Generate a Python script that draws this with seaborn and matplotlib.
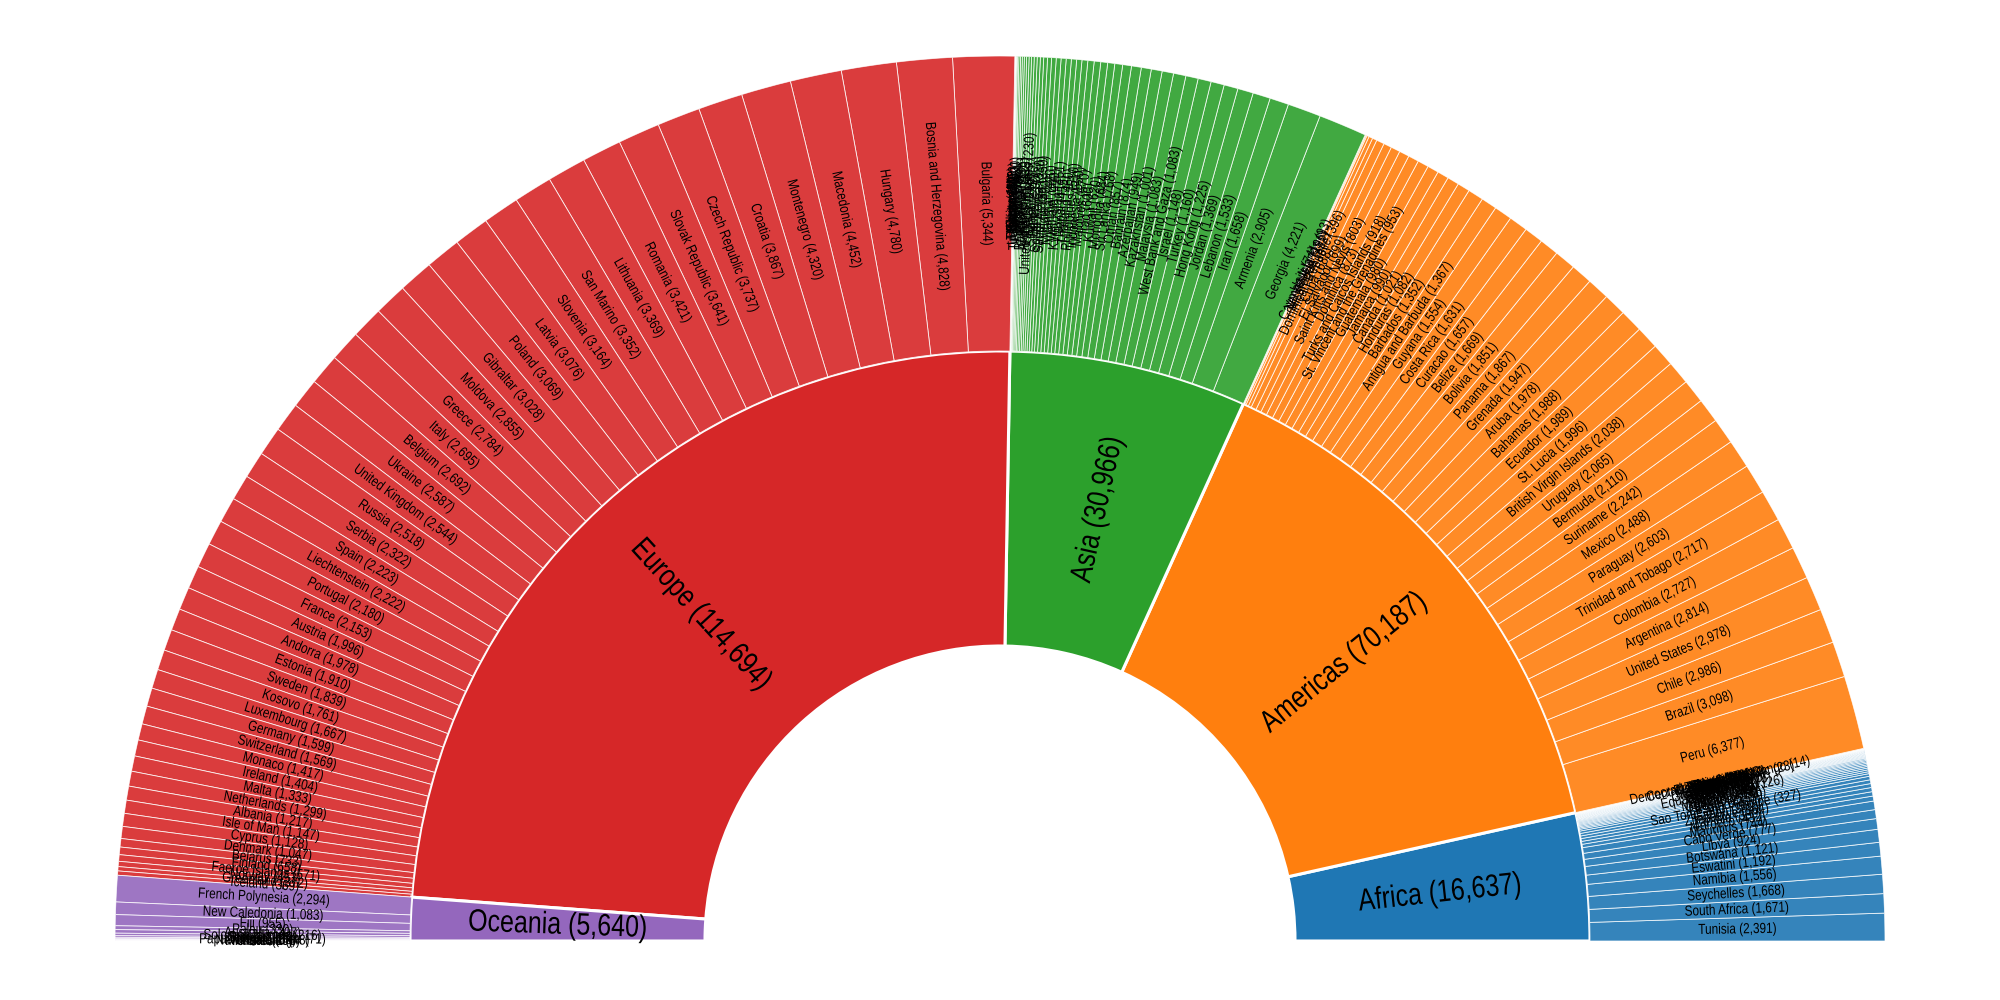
"""
Half sunburst: continent -> country, drawn on a polar axes with the tab10 palette.
Saida: out.png
"""
import numpy as np
import pandas as pd
import matplotlib
matplotlib.use("Agg")
import matplotlib.pyplot as plt
import seaborn as sns
from matplotlib.colors import to_rgba
from matplotlib.patheffects import AbstractPathEffect
from matplotlib.transforms import Affine2D

continents = ["Africa", "Americas", "Asia", "Europe", "Oceania"]
continent_totals = [16637, 70187, 30966, 114694, 5640]

africa_names = ["Tunisia", "South Africa", "Seychelles", "Namibia", "Eswatini", "Botswana", "Libya",
                "Cabo Verde", "Mauritius", "Morocco", "Zambia", "Zimbabwe", "Gabon",
                "Sao Tome and Principe", "Lesotho", "Egypt", "Comoros", "Mauritania", "Djibouti", "Algeria", "Malawi",
                "Gambia", "Equatorial Guinea", "Senegal", "Rwanda", "Kenya", "Uganda", "Guinea-Bissau",
                "Cameroon", "Mozambique", "Ethiopia", "Congo", "Sudan", "Angola", "Ghana", "Liberia",
                "Somalia", "Mali", "Togo", "Cote d'Ivoire", "Central African Republic", "Burkina Faso",
                "Benin", "Nigeria", "Tanzania", "Chad", "Niger", "Democratic Republic of Congo"]
africa_values = [2391, 1671, 1668, 1556, 1192, 1121, 924,
                 777, 744, 432, 380, 364, 342,
                 327, 310, 225, 170, 165, 160, 145, 135,
                 135, 126, 115, 105, 100, 75, 75,
                 70, 70, 65, 60, 60, 55, 45, 45,
                 40, 33, 30, 26, 23, 14,
                 14, 14, 12, 10, 8, 14]

americas_names = ["Peru", "Brazil", "Chile", "United States", "Argentina", "Colombia",
                  "Trinidad and Tobago", "Paraguay", "Mexico", "Suriname", "Bermuda", "Uruguay",
                  "British Virgin Islands", "St. Lucia", "Ecuador", "Bahamas", "Aruba", "Grenada",
                  "Panama", "Bolivia", "Belize", "Curacao", "Costa Rica", "Guyana",
                  "Antigua and Barbuda", "Barbados", "Honduras", "Canada", "Jamaica", "Guatemala",
                  "St. Vincent and the Grenadines", "Turks and Caicos Islands", "Dominica",
                  "Saint Kitts and Nevis", "El Salvador", "Cuba", "Dominican Republic", "Nicaragua",
                  "Venezuela", "Cayman Islands", "Haiti"]
americas_values = [6377, 3098, 2986, 2978, 2814, 2727,
                   2717, 2603, 2488, 2242, 2110, 2065,
                   2038, 1996, 1989, 1988, 1978, 1947,
                   1867, 1851, 1669, 1657, 1631, 1554,
                   1367, 1352, 1082, 1021, 990, 980,
                   953, 918, 873,
                   803, 699, 688, 396, 332,
                   196, 93, 74]

asia_names = ["Georgia", "Armenia", "Iran", "Lebanon", "Jordan", "Hong Kong", "Turkey", "Israel",
              "West Bank and Gaza", "Malaysia", "Kazakhstan", "Azerbaijan", "Bahrain", "Oman",
              "Sri Lanka", "Mongolia", "Kuwait", "Iraq", "Maldives", "Indonesia", "Philippines",
              "Thailand", "Nepal", "Kyrgyzstan", "Vietnam", "Myanmar", "India", "Saudi Arabia",
              "South Korea", "Brunei", "Singapore", "Qatar", "United Arab Emirates", "Afghanistan",
              "Cambodia", "Bangladesh", "Japan", "Syria", "Pakistan", "Timor-Leste", "Yemen",
              "Uzbekistan", "Taiwan", "Laos", "Tajikistan", "Macao", "Bhutan", "China"]
asia_values = [4221, 2905, 1658, 1533, 1369, 1225, 1160, 1148,
               1083, 1083, 1001, 949, 874, 857,
               768, 684, 620, 600, 570, 550, 510,
               460, 455, 451, 440, 420, 400, 350,
               330, 290, 270, 260, 230, 215,
               210, 195, 175, 155, 145, 120, 82,
               50, 40, 25, 13, 10, 4, 3]

europe_names = ["Bulgaria", "Bosnia and Herzegovina", "Hungary", "Macedonia", "Montenegro", "Croatia",
                "Czech Republic", "Slovak Republic", "Romania", "Lithuania", "San Marino", "Slovenia",
                "Latvia", "Poland", "Gibraltar", "Moldova", "Greece", "Italy", "Belgium", "Ukraine",
                "United Kingdom", "Russia", "Serbia", "Spain", "Liechtenstein", "Portugal", "France",
                "Austria", "Andorra", "Estonia", "Sweden", "Kosovo", "Luxembourg", "Germany",
                "Switzerland", "Monaco", "Ireland", "Malta", "Netherlands", "Albania", "Isle of Man",
                "Cyprus", "Denmark", "Belarus", "Finland", "Faeroe Islands", "Norway", "Greenland",
                "Iceland"]
europe_values = [5344, 4828, 4780, 4452, 4320, 3867,
                 3737, 3641, 3421, 3369, 3352, 3164,
                 3076, 3069, 3028, 2855, 2784, 2695, 2692, 2587,
                 2544, 2518, 2322, 2223, 2222, 2180, 2153,
                 1996, 1978, 1910, 1839, 1761, 1667, 1599,
                 1569, 1417, 1404, 1333, 1299, 1217, 1147,
                 1128, 1047, 733, 658, 571, 457, 372,
                 369]

oceania_names = ["French Polynesia", "New Caledonia", "Fiji", "Palau", "Australia", "Solomon Islands",
                 "Samoa", "Tonga", "Papua New Guinea", "Vanuatu", "New Zealand", "Kiribati", "Micronesia"]
oceania_values = [2294, 1083, 955, 330, 307, 216,
                  140, 115, 71, 58, 48, 15, 8]

country_names = [africa_names, americas_names, asia_names, europe_names, oceania_names]
country_values = [africa_values, americas_values, asia_values, europe_values, oceania_values]


class Estica(AbstractPathEffect):
    # o texto do original e mais alto que largo: estica os glifos na vertical
    def __init__(self, k=1.24):
        self.k = k

    def draw_path(self, renderer, gc, tpath, affine, rgbFace=None):
        esticado = Affine2D().translate(0, -36).scale(1, self.k).translate(0, 36)
        renderer.draw_path(gc, tpath, esticado + affine, rgbFace)


sns.set_theme(style="white")
plt.rcParams['font.family'] = ['Liberation Sans', 'DejaVu Sans']
palette = sns.color_palette("tab10", 5)

grupos = pd.DataFrame({"nome": continents, "valor": continent_totals})
total = grupos["valor"].sum()
grupos["inicio"] = grupos["valor"].cumsum().shift(fill_value=0) / total * np.pi
grupos["largura"] = grupos["valor"] / total * np.pi


def rotulo(ax, theta, raio, texto, tamanho):
    graus = np.degrees(theta)
    rot = graus if graus < 90 else graus - 180
    ax.text(theta, raio, texto, rotation=rot, rotation_mode='anchor',
            ha='center', va='center', fontsize=tamanho, color='black',
            path_effects=[Estica()])


fig = plt.figure(figsize=(20, 10), dpi=100)
# centro em (1000, 941) px, raio externo 885 px
ax = fig.add_axes([115 / 2000, -826 / 1000, 1770 / 2000, 1770 / 1000], projection='polar')
ax.set_ylim(0, 3)
ax.set_axis_off()

for i, g in grupos.iterrows():
    ax.bar(g["inicio"], 1, width=g["largura"], bottom=1, align='edge',
           color=palette[i], edgecolor='white', linewidth=2.2)
    rotulo(ax, g["inicio"] + g["largura"] / 2, 1.5, f"{g['nome']} ({g['valor']:,})", 18)

    folhas = pd.DataFrame({"nome": country_names[i], "valor": country_values[i]})
    escala = g["largura"] / folhas["valor"].sum()
    folhas["inicio"] = g["inicio"] + folhas["valor"].cumsum().shift(fill_value=0) * escala
    folhas["largura"] = folhas["valor"] * escala
    ax.bar(folhas["inicio"], 1, width=folhas["largura"], bottom=2, align='edge',
           color=to_rgba(palette[i], 0.9), edgecolor=to_rgba('white', 0.85), linewidth=0.6)
    for _, f in folhas.iterrows():
        rotulo(ax, f["inicio"] + f["largura"] / 2, 2.5, f"{f['nome']} ({f['valor']:,})", 8.5)

fig.savefig("out.png", dpi=100)
plt.close(fig)
